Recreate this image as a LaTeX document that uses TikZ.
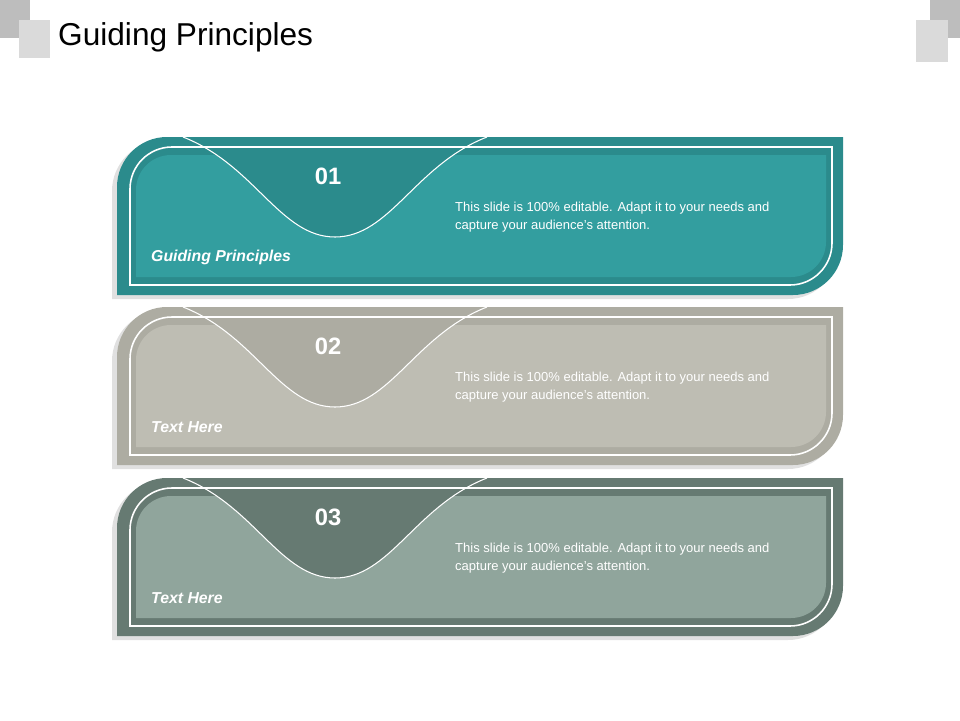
\documentclass[tikz,border=0pt]{standalone}
\usepackage{fontspec}
\setmainfont{Liberation Sans}
\usetikzlibrary{positioning}
\definecolor{TealMain}{HTML}{339E9F}
\definecolor{TealDark}{HTML}{2B8B8C}
\definecolor{GrisMain}{HTML}{BEBDB3}
\definecolor{GrisDark}{HTML}{ADACA2}
\definecolor{VertMain}{HTML}{90A59C}
\definecolor{VertDark}{HTML}{667A72}
\definecolor{CoinClair}{HTML}{DADADA}
\definecolor{CoinFonce}{HTML}{BDBDBD}
\tikzset{
	numtxt/.style={text=white, font=\fontsize{13.5}{15}\selectfont\bfseries},
	desctxt/.style={text=white, font=\fontsize{7.4}{10}\selectfont, align=left, anchor=west},
	labtxt/.style={text=white, font=\fontsize{9}{11}\selectfont\bfseries\itshape, anchor=west},
	cadre/.style={draw=white, line width=0.9pt},
}
% bande a deux coins arrondis : \bande{x1}{y1}{x2}{y2}{rayon}
\newcommand{\bande}[5]{(#1,#4) -- (#1,#2+#5) .. controls (#1,#2+0.448*#5) and (#1+0.448*#5,#2) .. (#1+#5,#2) -- (#3,#2) -- (#3,#4-#5) .. controls (#3,#4-0.448*#5) and (#3-0.448*#5,#4) .. (#3-#5,#4) -- cycle}
\begin{document}
\begin{tikzpicture}[x=0.02cm, y=-0.02cm]
			\useasboundingbox (0,0) rectangle (960,720);
			% Carres d'angle
			\fill[CoinFonce] (0,0) rectangle (30,38);
			\fill[CoinClair] (19,20) rectangle (50,58);
			\fill[CoinFonce] (930,0) rectangle (960,38);
			\fill[CoinClair] (916,20) rectangle (948,62);
			% Titre
			\node[anchor=west, font=\fontsize{18}{20}\selectfont] (titre) at (52,37) {Guiding Principles};
			%
			% Bandes
			\foreach \dy/\cmain/\cdark/\num/\lab [count=\i] in {0/TealMain/TealDark/01/Guiding Principles, 170/GrisMain/GrisDark/02/Text Here, 341/VertMain/VertDark/03/Text Here}{
				\begin{scope}[yshift=-\dy*0.02cm]
					% ombre
					\fill[black!12] \bande{112}{141}{838}{299}{50};
					% bande exterieure
					\fill[\cdark] \bande{117}{137}{843}{295}{50};
					% zone interieure
					\fill[\cmain] \bande{136}{155}{826}{277}{35};
					% encoche
					\fill[\cdark, draw=white, line width=0.6pt] (183,137) .. controls (255,165) and (280,237) .. (335,237) .. controls (390,237) and (415,165) .. (487,137);
					% cadre blanc
					\draw[cadre] \bande{130}{147}{832}{285}{42};
					% textes
					\node[numtxt] (num\i) at (328,176) {\num};
					\node[desctxt] (desc\i) at (449,217) {This slide is 100\% editable. Adapt it to your needs and\\capture your audience's attention.};
					\node[labtxt] (lab\i) at (145,257) {\lab};
				\end{scope}
			}
\end{tikzpicture}
\end{document}
